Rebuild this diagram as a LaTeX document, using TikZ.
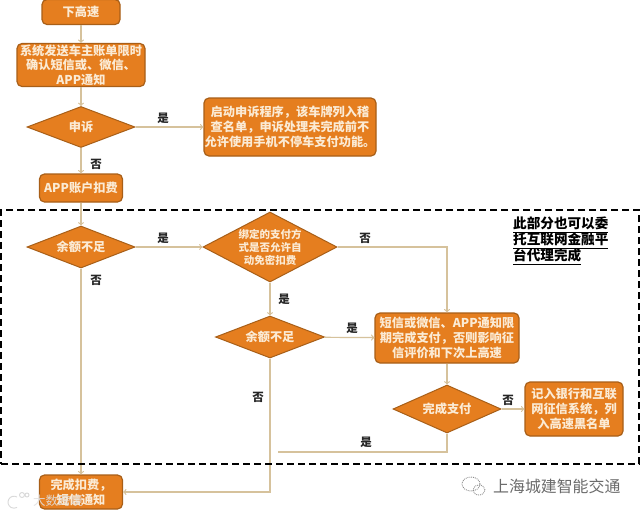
\documentclass[tikz,border=0pt]{standalone}
\usepackage{fontspec}
\setmainfont{Noto Sans CJK SC}
\usetikzlibrary{shapes.geometric}
\definecolor{fillorange}{HTML}{E57E1F}
\definecolor{edgeorange}{HTML}{A85F18}
\definecolor{linetan}{HTML}{D6C29C}
\definecolor{textcream}{HTML}{FBEBD5}
\tikzset{
    box/.style={draw=edgeorange, line width=1.2pt, fill=fillorange, text=textcream, rounded corners=5pt, inner sep=0pt, align=center, font=\bfseries\fontsize{12.2}{14.7}\selectfont},
    choice/.style={diamond, aspect=2.6, draw=edgeorange, line width=1pt, fill=fillorange, text=textcream, inner sep=0pt, align=center, font=\bfseries\fontsize{12.2}{14.7}\selectfont},
    flow/.style={draw=linetan, line width=1.2pt},
    tag/.style={font=\bfseries\fontsize{11.5}{13}\selectfont, text=black!85},
    mark faint/.style={draw=white!85!black, line width=0.9pt},
}
\begin{document}
\begin{tikzpicture}[x=1pt, y=-1pt]
    \useasboundingbox (0, 0) rectangle (640, 515);
    \fill[white] (0, 0) rectangle (640, 515);

    \node[box, minimum width=78pt, minimum height=25pt] (xiagaosu) at (81, 12) {下高速};
    \node[box, minimum width=128pt, minimum height=43pt] (tongzhi) at (81, 65) {系统发送车主账单限时\\确认短信或、微信、\\APP通知};
    \node[choice, minimum width=108pt, minimum height=41pt] (shensu) at (81, 127) {申诉};
    \node[box, minimum width=172pt, minimum height=58pt] (chengxu) at (290, 127) {启动申诉程序，该车牌列入稽\\查名单，申诉处理未完成前不\\允许使用手机不停车支付功能。};
    \node[box, minimum width=83pt, minimum height=28pt] (zhanghu) at (81, 188) {APP账户扣费};
    \node[choice, minimum width=108pt, minimum height=42pt] (yuea) at (81, 247) {余额不足};
    \node[choice, aspect=1.9, minimum width=134pt, minimum height=70pt, font=\bfseries\fontsize{10.5}{13}\selectfont] (bangding) at (270, 247) {绑定的支付方\\式是否允许自\\动免密扣费};
    \node[choice, minimum width=109pt, minimum height=42pt] (yueb) at (270, 337) {余额不足};
    \node[box, minimum width=144pt, minimum height=50pt] (duanxin) at (447, 338) {短信或微信、APP通知限\\期完成支付，否则影响征\\信评价和下次上高速};
    \node[choice, minimum width=108pt, minimum height=48pt] (zhifu) at (447, 409) {完成支付};
    \node[box, minimum width=98pt, minimum height=54pt] (jiru) at (574, 409) {记入银行和互联\\网征信系统，列\\入高速黑名单};
    \node[box, minimum width=83pt, minimum height=34pt] (wancheng) at (81, 492) {完成扣费，\\短信通知};

    \coordinate (fanhui) at (278, 452);

    \draw[flow, ->] (xiagaosu) -- (tongzhi);
    \draw[flow, ->] (tongzhi) -- (shensu);
    \draw[flow, ->] (shensu) -- (chengxu);
    \draw[flow, ->] (shensu) -- (zhanghu);
    \draw[flow, ->] (zhanghu) -- (yuea);
    \draw[flow, ->] (yuea) -- (bangding);
    \draw[flow, ->] (yuea) -- (wancheng);
    \draw[flow, ->] (bangding) -- (yueb);
    \draw[flow, ->] (bangding) -| (duanxin);
    \draw[flow, ->] (yueb) -- (duanxin);
    \draw[flow, ->] (yueb) |- (wancheng);
    \draw[flow, ->] (duanxin) -- (zhifu);
    \draw[flow, ->] (zhifu) -- (jiru);
    \draw[flow] (zhifu) |- (fanhui);

    \node[tag] (shia) at (163, 118) {是};
    \node[tag] (foua) at (96, 164) {否};
    \node[tag] (shib) at (163, 238) {是};
    \node[tag] (foub) at (96, 280) {否};
    \node[tag] (fouc) at (365, 238) {否};
    \node[tag] (shic) at (284, 299) {是};
    \node[tag] (shid) at (352, 328) {是};
    \node[tag] (foud) at (258, 397) {否};
    \node[tag] (foue) at (508, 400) {否};
    \node[tag] (shie) at (366, 442) {是};

    \node[font=\bfseries\fontsize{13.6}{16}\selectfont, align=left, anchor=north west, inner sep=0pt] (beizhu) at (513, 217) {\underline{此部分也可以委}\\\underline{托互联网金融平}\\\underline{台代理完成}};

    \node[draw=black, line width=1.4pt, dash pattern=on 7pt off 4pt, minimum width=638pt, minimum height=254pt, inner sep=0pt] (bufen) at (320, 337) {};

    \node[font=\fontsize{15.9}{18}\selectfont, text=black!58, anchor=west, inner sep=0pt] (gongzhong) at (493, 486) {上海城建智能交通};
    \draw[mark faint, densely dotted, draw=black!45] (471, 484) ellipse (9pt and 7pt);
    \draw[mark faint, densely dotted, draw=black!45] (479, 490) ellipse (6pt and 5pt);

    \node[font=\fontsize{12.5}{14}\selectfont, text=white!88!black, opacity=0.9, anchor=west, inner sep=0pt] (dashu) at (33, 501) {大数跨境};
    \draw[mark faint] (17, 497) arc (60:300:6pt);
    \draw[mark faint] (22, 495) circle (2.5pt);
    \draw[mark faint] (27, 495) circle (2pt);
\end{tikzpicture}
\end{document}
